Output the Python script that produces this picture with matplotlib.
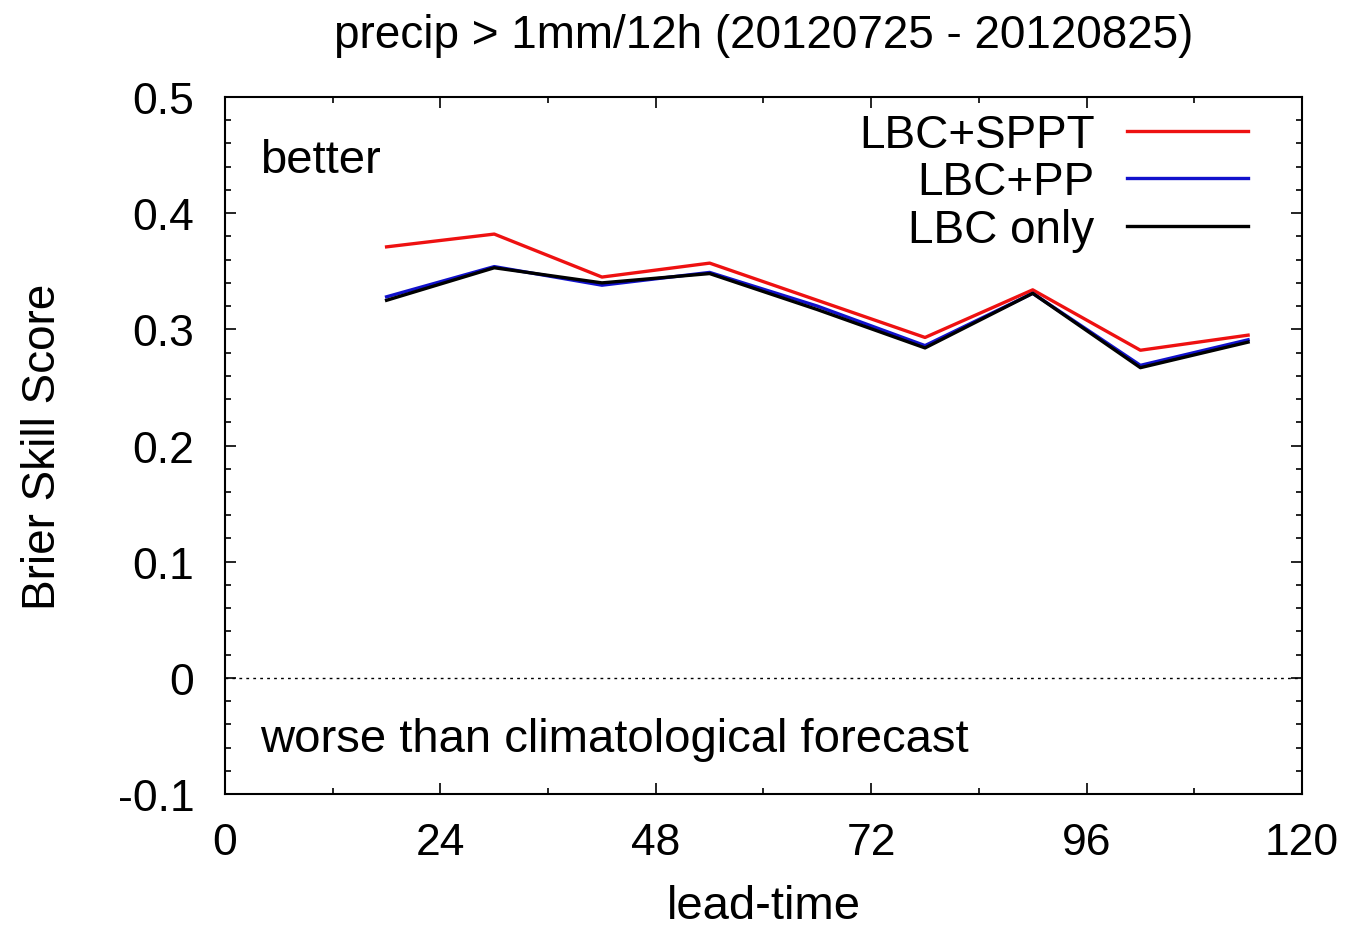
import matplotlib
matplotlib.use("Agg")
import matplotlib.pyplot as plt
from matplotlib.ticker import MultipleLocator

plt.rcParams['font.family'] = ['Liberation Sans', 'DejaVu Sans']

# Brier skill score vs. lead time (hours)
lead_time = [18, 30, 42, 54, 66, 78, 90, 102, 114]
bss_sppt = [0.371, 0.382, 0.345, 0.357, 0.325, 0.293, 0.334, 0.282, 0.295]
bss_pp = [0.328, 0.354, 0.338, 0.349, 0.320, 0.286, 0.331, 0.269, 0.291]
bss_lbc = [0.325, 0.353, 0.340, 0.348, 0.317, 0.284, 0.331, 0.267, 0.289]

labels = ['LBC+SPPT', 'LBC+PP', 'LBC only']
colors = ['#ee1111', '#1111cc', '#000000']

fig = plt.figure(figsize=(13.5, 9.28), dpi=100)
ax = fig.add_axes([0.1667, 0.1433, 0.7977, 0.7511])

for ys, lab, c in zip([bss_sppt, bss_pp, bss_lbc], labels, colors):
    ax.plot(lead_time, ys, color=c, lw=2.4, label=lab)

ax.axhline(0, color='black', lw=1.0, ls=(0, (2, 3)))

ax.set_xlim(0, 120)
ax.set_ylim(-0.1, 0.5)
ax.xaxis.set_major_locator(MultipleLocator(24))
ax.xaxis.set_minor_locator(MultipleLocator(12))
ax.yaxis.set_major_locator(MultipleLocator(0.1))
ax.yaxis.set_minor_locator(MultipleLocator(0.02))
ax.set_yticks([-0.1, 0, 0.1, 0.2, 0.3, 0.4, 0.5])
ax.set_yticklabels(['-0.1', '0', '0.1', '0.2', '0.3', '0.4', '0.5'])

ax.tick_params(which='both', direction='in', top=True, right=True, width=1.2)
ax.tick_params(which='major', length=8, labelsize=32)
ax.tick_params(axis='y', which='major', pad=22)
ax.tick_params(axis='x', which='major', pad=20)
ax.tick_params(which='minor', length=4)
for sp in ax.spines.values():
    sp.set_linewidth(1.5)

ax.set_xlabel('lead-time', fontsize=34, labelpad=15)
ax.set_ylabel('Brier Skill Score', fontsize=33, labelpad=38)
ax.set_title('precip > 1mm/12h (20120725 - 20120825)', fontsize=33, pad=36)

ax.text(3.9, 0.446, 'better', fontsize=34, va='center', ha='left')
ax.text(3.9, -0.053, 'worse than climatological forecast', fontsize=34,
        va='center', ha='left')

ax.legend(loc='upper right', frameon=False, markerfirst=False, fontsize=33,
          handlelength=2.65, handletextpad=0.7, labelspacing=0.08,
          borderaxespad=0.0, bbox_to_anchor=(0.967, 1.004))

fig.savefig('out.png', dpi=100)
